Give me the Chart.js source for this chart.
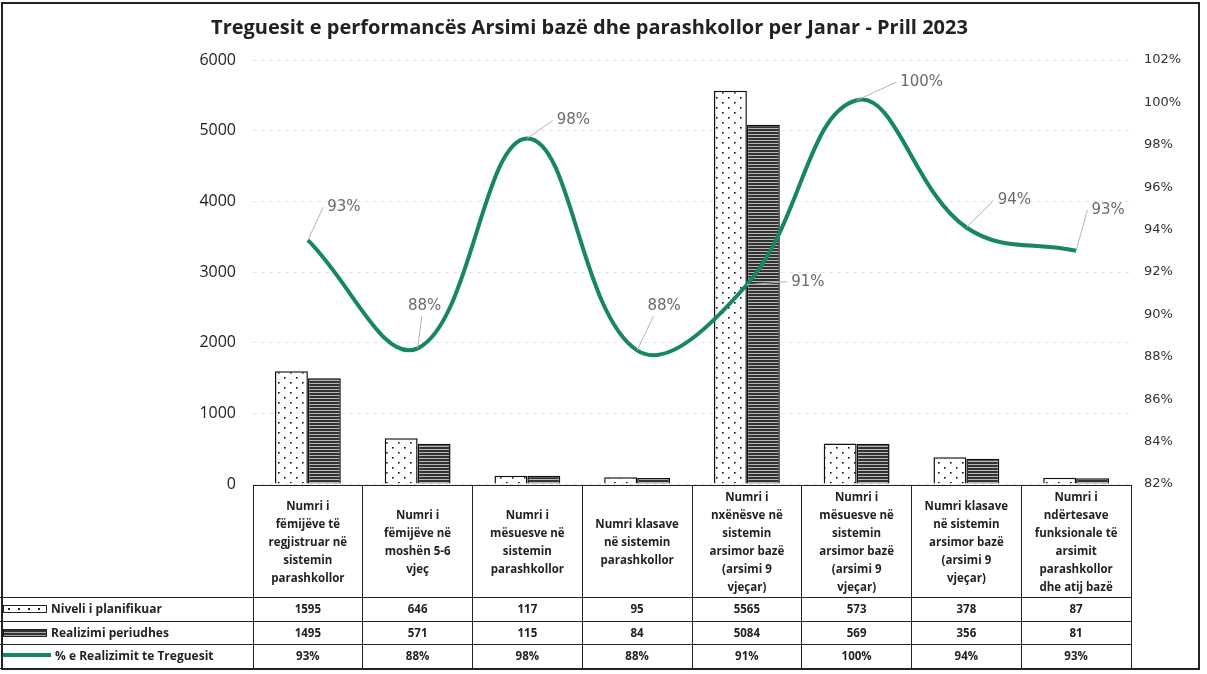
<!DOCTYPE html>
<html>
<head>
<meta charset="utf-8">
<script src="https://cdn.jsdelivr.net/npm/chart.js@4"></script>
<style>
  body { margin: 0; background: #fff; }
  #wrap { position: relative; width: 1207px; height: 674px; overflow: hidden; }
  #chart { position: absolute; left: 0; top: 0; }
  #title { position: absolute; left: 0; top: 13px; width: 1179px; text-align: center; font-family: "Open Sans", sans-serif; font-size: 20px; font-weight: bold; color: #222; white-space: nowrap; }
  #frame { position: absolute; left: 1px; top: 2px; width: 1199px; height: 668px; border: 2px solid #222; box-sizing: border-box; pointer-events: none; }
  #tbl { position: absolute; border-collapse: collapse; font-family: "Open Sans", "Liberation Sans", sans-serif; font-size: 11.5px; font-weight: bold; color: #222; table-layout: fixed; }
  #tbl td { border: 1.5px solid #222; text-align: center; padding: 0 1px; line-height: 18px; overflow: hidden; }
  #tbl tr.head td { line-height: 18px; vertical-align: middle; }
  #tbl td.corner { border-top: none; border-left: none; }
  #tbl td.key { text-align: left; white-space: nowrap; padding-left: 3px; border-left: none; font-size: 12px; }
  .sw { display: inline-block; width: 44px; height: 8px; margin-right: 4px; vertical-align: 0px; box-sizing: border-box; }
  .sw.dots { border: 1.5px solid #222; background: #fff radial-gradient(#222 1px, transparent 1.2px) 0 0 / 10px 6px; }
  .sw.stripes { border: 1.5px solid #222; background: repeating-linear-gradient(#333 0 2px, #aaa 2px 3px); }
  .sw.line { height: 4px; width: 48px; background: #16875e; vertical-align: 3px; }
</style>
</head>
<body>
<div id="wrap">
  <canvas id="chart" width="1207" height="674"></canvas>
  <div id="title"></div>
  <table id="tbl"></table>
  <div id="frame"></div>
</div>
<script>
const chartTitle = "Treguesit e performancës Arsimi bazë dhe parashkollor per Janar - Prill 2023";
// kategorite (tekst i tabeles, rresht pas rreshti)
const categories = [
    ["Numri i", "fëmijëve të", "regjistruar në", "sistemin", "parashkollor"],
    ["Numri i", "fëmijëve në", "moshën 5-6", "vjeç"],
    ["Numri i", "mësuesve në", "sistemin", "parashkollor"],
    ["Numri klasave", "në sistemin", "parashkollor"],
    ["Numri i", "nxënësve në", "sistemin", "arsimor bazë", "(arsimi 9", "vjeçar)"],
    ["Numri i", "mësuesve në", "sistemin", "arsimor bazë", "(arsimi 9", "vjeçar)"],
    ["Numri klasave", "në sistemin", "arsimor bazë", "(arsimi 9", "vjeçar)"],
    ["Numri i", "ndërtesave", "funksionale të", "arsimit", "parashkollor", "dhe atij bazë"],
];
const planned = [1595, 646, 117, 95, 5565, 573, 378, 87];
const realized = [1495, 571, 115, 84, 5084, 569, 356, 81];
// % e realizimit, lexuar nga vija ne grafik
const percent = [93.5, 88.4, 98.3, 88.3, 91.4, 100.1, 94.1, 93.0];
// etiketat e shfaqura (te rrumbullakosura)
const percentLabels = ["93%", "88%", "98%", "88%", "91%", "100%", "94%", "93%"];
const seriesNames = ["Niveli i planifikuar", "Realizimi periudhes", "% e Realizimit te Treguesit"];
const leftTicks = { min: 0, max: 6000, step: 1000 };
const rightTicks = { min: 82, max: 102, step: 2 };

// zhvendosja e etiketave nga pika (px)
const labelOffsets = [[36, -33], [7, -42], [46, -18], [27, -44], [61, -3], [65, -18], [48, -27], [32, -41]];

const green = "#16875e";

function dotPattern() {
    const c = document.createElement("canvas");
    c.width = 12; c.height = 10;
    const g = c.getContext("2d");
    g.fillStyle = "#fff";
    g.fillRect(0, 0, 12, 10);
    g.fillStyle = "#111";
    g.fillRect(2, 2, 1.6, 1.6);
    g.fillRect(8, 7, 1.6, 1.6);
    return g.createPattern(c, "repeat");
}

function stripePattern() {
    const c = document.createElement("canvas");
    c.width = 4; c.height = 3;
    const g = c.getContext("2d");
    g.fillStyle = "#b8b8b8";
    g.fillRect(0, 0, 4, 3);
    g.fillStyle = "#333";
    g.fillRect(0, 0, 4, 2);
    return g.createPattern(c, "repeat");
}

const pointLabels = {
    id: "pointLabels",
    afterDatasetsDraw(chart) {
        const meta = chart.getDatasetMeta(2);
        const ctx = chart.ctx;
        ctx.save();
        ctx.font = "15px 'DejaVu Sans', sans-serif";
        ctx.fillStyle = "#6a6a6a";
        ctx.strokeStyle = "#b5b5b5";
        ctx.lineWidth = 1;
        ctx.textAlign = "center";
        ctx.textBaseline = "middle";
        meta.data.forEach((pt, i) => {
            const [dx, dy] = labelOffsets[i];
            const lx = pt.x + dx, ly = pt.y + dy;
            const w = ctx.measureText(percentLabels[i]).width;
            // vija udhezuese
            let ex, ey;
            if (Math.abs(dy) < 10) { ex = lx - w / 2 - 4; ey = ly; }
            else if (dx > 30) { ex = lx - w / 2 - 4; ey = ly; }
            else { ex = pt.x + dx * 0.6; ey = ly + 10; }
            ctx.beginPath();
            ctx.moveTo(pt.x, pt.y);
            ctx.lineTo(ex, ey);
            ctx.stroke();
            ctx.fillText(percentLabels[i], lx, ly);
        });
        ctx.restore();
    },
};

document.getElementById("title").textContent = chartTitle;

const ctx = document.getElementById("chart").getContext("2d");
const myChart = new Chart(ctx, {
    type: "bar",
    data: {
        labels: categories,
        datasets: [
            {
                label: seriesNames[0],
                data: planned,
                backgroundColor: dotPattern(),
                borderColor: "#111",
                borderWidth: 1.5,
                categoryPercentage: 0.6,
                barPercentage: 1.0,
                order: 1,
            },
            {
                label: seriesNames[1],
                data: realized,
                backgroundColor: stripePattern(),
                borderColor: "#111",
                borderWidth: 1.5,
                categoryPercentage: 0.6,
                barPercentage: 1.0,
                order: 1,
            },
            {
                type: "line",
                label: seriesNames[2],
                data: percent,
                yAxisID: "y1",
                borderColor: green,
                backgroundColor: green,
                borderWidth: 4,
                tension: 0.4,
                pointRadius: 0,
                fill: false,
                order: 0,
            },
        ],
    },
    options: {
        responsive: false,
        animation: false,
        layout: {
            padding: { top: 50, right: 0, bottom: 190, left: 0 },
        },
        plugins: {
            legend: { display: false },
            tooltip: { enabled: false },
            title: { display: false },
        },
        scales: {
            x: { display: false },
            y: {
                position: "left",
                min: leftTicks.min,
                max: leftTicks.max,
                ticks: {
                    stepSize: leftTicks.step,
                    color: "#222",
                    font: { family: "'Open Sans', sans-serif", size: 16 },
                    padding: 17,
                    callback: (v) => String(v),
                },
                grid: { color: "#e4e4e4", drawTicks: false },
                border: { display: false, dash: [4, 4] },
                afterFit(scale) { scale.width = 253; },
            },
            y1: {
                position: "right",
                min: rightTicks.min,
                max: rightTicks.max,
                ticks: {
                    stepSize: rightTicks.step,
                    color: "#333",
                    font: { family: "'DejaVu Sans', sans-serif", size: 13 },
                    padding: 13,
                    callback: (v) => v + "%",
                },
                grid: { display: false, drawTicks: false },
                border: { display: false },
                afterFit(scale) { scale.width = 76; },
            },
        },
    },
    plugins: [pointLabels],
});

// zona e grafikut fillon te y=60 dhe mbaron te y=484
myChart.options.layout.padding.top += 60 - myChart.chartArea.top;
myChart.options.layout.padding.bottom += myChart.chartArea.bottom - 484;
myChart.update();

// tabela e te dhenave poshte grafikut
function buildTable(chart) {
    const area = chart.chartArea;
    const tbl = document.getElementById("tbl");
    const colW = (area.right - area.left) / categories.length;
    tbl.style.left = "0px";
    tbl.style.top = (area.bottom + 1) + "px";
    tbl.style.width = area.right + "px";
    let html = "<colgroup><col style='width:" + area.left + "px'>";
    categories.forEach(() => { html += "<col style='width:" + colW + "px'>"; });
    html += "</colgroup>";
    html += "<tr class='head' style='height:112px'><td class='corner'></td>";
    categories.forEach((c) => { html += "<td>" + c.join("<br>") + "</td>"; });
    html += "</tr>";
    const rows = [
        ["dots", planned.map(String)],
        ["stripes", realized.map(String)],
        ["line", percentLabels],
    ];
    rows.forEach(([sw, vals], r) => {
        html += "<tr style='height:23.5px'><td class='key'><span class='sw " + sw + "'></span>" + seriesNames[r] + "</td>";
        vals.forEach((v) => { html += "<td>" + v + "</td>"; });
        html += "</tr>";
    });
    tbl.innerHTML = html;
}
buildTable(myChart);
</script>
</body>
</html>
